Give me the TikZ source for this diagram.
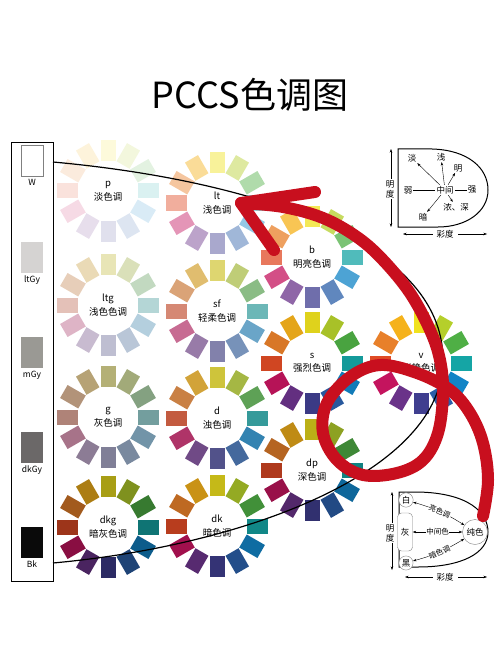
\documentclass[tikz,border=0pt]{standalone}
\usepackage{fontspec}
\setmainfont{Noto Sans CJK SC}
\usetikzlibrary{arrows.meta}
% twelve hues, clockwise from yellow at the top
\definecolor{h1}{HTML}{F0E21E}\definecolor{h2}{HTML}{B5CF2B}\definecolor{h3}{HTML}{4FAF45}
\definecolor{h4}{HTML}{15A5A5}\definecolor{h5}{HTML}{1284C6}\definecolor{h6}{HTML}{2B5FA9}
\definecolor{h7}{HTML}{3F3E8F}\definecolor{h8}{HTML}{6A3389}\definecolor{h9}{HTML}{C4145E}
\definecolor{h10}{HTML}{E04B25}\definecolor{h11}{HTML}{E8802A}\definecolor{h12}{HTML}{F5B21B}
\definecolor{ltgy}{HTML}{D5D3D2}\definecolor{mgy}{HTML}{9A9994}\definecolor{dkgy}{HTML}{6B6868}
\definecolor{bk}{HTML}{0A0A0A}\definecolor{redpen}{HTML}{C80F1E}
\newcommand\tonewheel[5]{% x, y, colour mix, name, text
\foreach \i in {1,...,12}\fill[h\i#3,shift={(#1,#2)},rotate=120-30*\i](30,-7.5)rectangle(51,7.5);
\node[align=center,font=\fontsize{9.5}{13.5}\selectfont](#4)at(#1,#2){#5};}
\begin{document}
\begin{tikzpicture}[x=1pt,y=-1pt,
  lbl/.style={font=\fontsize{8.5}{10}\selectfont,inner sep=1pt},
  small/.style={font=\fontsize{7.5}{9}\selectfont,inner sep=.5pt},
  tip/.style={-{Stealth[length=3.5pt,width=2.5pt]}},
  dbl/.style={{Stealth[length=3.5pt,width=2.5pt]}-{Stealth[length=3.5pt,width=2.5pt]}},
  chip/.style={minimum width=22pt,minimum height=31pt,inner sep=0pt},
  chiplbl/.style={font=\fontsize{8.5}{9}\selectfont,anchor=north,inner sep=0pt},
  ring/.style={circle,draw=gray,fill=white,inner sep=1pt}]
\useasboundingbox(0,0)rectangle(500,652);
\node[font=\fontsize{36}{40}\selectfont](title)at(250,95){PCCS色调图};
% grey scale column
\draw[line width=.8pt](11,142)rectangle(53,581);
\node[chip,draw=gray,line width=1pt,fill=white](W)at(32,161){};
\node[chiplbl](Wl)at([yshift=-2pt]W.south){W};
\foreach \y/\c/\t in {257/ltgy/ltGy,352/mgy/mGy,447/dkgy/dkGy,542/bk/Bk}{
  \node[chip,fill=\c](\t)at(32,\y){};
  \node[chiplbl](\t l)at([yshift=-3pt]\t.south){\t};}
% tone wheels
\tonewheel{108}{191}{!16!white}{ptone}{p\\淡色调}
\tonewheel{217}{203}{!45!white}{lttone}{lt\\浅色调}
\tonewheel{312}{257}{!75!white}{btone}{b\\明亮色调}
\tonewheel{421}{363}{}{vtone}{v\\鲜艳色调}
\tonewheel{108}{305}{!28!white!85!gray}{ltgtone}{ltg\\浅色色调}
\tonewheel{217}{311}{!65!white!80!gray}{sftone}{sf\\轻柔色调}
\tonewheel{312}{363}{!93!black}{stone}{s\\强烈色调}
\tonewheel{108}{417}{!35!gray!85!white}{gtone}{g\\灰色调}
\tonewheel{217}{418}{!70!gray}{dtone}{d\\浊色调}
\tonewheel{312}{470}{!78!black}{dptone}{dp\\深色调}
\tonewheel{108}{527}{!70!black}{dkgtone}{dkg\\暗灰色调}
\tonewheel{217}{526}{!82!black}{dktone}{dk\\暗色调}
\draw[line width=1.2pt](53,162)..controls(250,180)and(443,240)..(443,360)..controls(443,470)and(250,545)..(53,563);
% key: lightness and chroma
\draw[line width=1pt](398,149)--(432,149)..controls(468,150)and(488,168)..(488,190)..controls(488,212)and(466,227)..(438,227)--(398,227)--cycle;
\node[lbl](mid)at(445,190){中间};
\node[lbl](weak)at(408,190){弱};\node[lbl](strong)at(472,190){强};
\draw(weak)--(mid)--(strong);
\node[lbl](pale)at(412,158){淡};\node[lbl](light)at(441,157){浅};\node[lbl](bright)at(458,168){明};
\node[lbl](deep)at(456,207){浓、深};\node[lbl](dark)at(423,217){暗};
\foreach \n in {pale,light,bright,deep,dark}\draw[tip](mid)--(\n);
\coordinate(v1)at(391,149);\coordinate(v2)at(391,227);
\draw[dbl](v1)--(v2);
\node[lbl,fill=white,align=center](vl1)at(390,189){明\\度};
\coordinate(c1)at(403,234);\coordinate(c2)at(487,234);
\draw[dbl](c1)--(c2);
\node[lbl,fill=white,inner xsep=4pt](cl1)at(445,234){彩度};
% key: white, grey, black and pure colour
\draw[line width=1pt](399,492)--(418,492)..controls(468,493)and(488,512)..(488,532)..controls(488,553)and(462,567)..(418,567)--(399,567)--cycle;
\node[lbl,ring](wh)at(406,500){白};
\node[lbl,draw=gray,fill=white,rounded corners=4pt,minimum width=15pt,minimum height=38pt](gy)at(405,532){灰};
\node[lbl,ring](bl)at(406,563){黑};
\node[lbl,ring,minimum size=25pt](pure)at(475,532){纯色};
\draw[dbl](wh)to[bend left=8]node[small,sloped,fill=white]{亮色调}(pure);
\draw[dbl](gy)--node[small,fill=white]{中间色}(pure);
\draw[dbl](bl)to[bend right=8]node[small,sloped,fill=white]{暗色调}(pure);
\coordinate(v3)at(392,492);\coordinate(v4)at(392,570);
\draw[dbl](v3)--(v4);
\node[lbl,fill=white,align=center](vl2)at(390,533){明\\度};
\coordinate(c3)at(405,577);\coordinate(c4)at(487,577);
\draw[dbl](c3)--(c4);
\node[lbl,fill=white,inner xsep=4pt](cl2)at(445,577){彩度};
% red hand-drawn arrow
\coordinate(tipr)at(241,203);
\draw[redpen,line width=12pt,line cap=round,line join=round]plot[smooth,tension=.6]coordinates{
(483,516)(488,480)(483,443)(470,413)(450,390)(417,373)(380,365)(350,377)(327,403)(323,433)
(337,460)(363,475)(397,473)(423,460)(438,433)(443,393)(440,360)(430,330)(410,293)(383,260)
(357,237)(323,218)(283,207)(tipr)};
\draw[redpen,line width=12pt,line cap=round,line join=round](315,192)--(tipr)--(274,250);
\end{tikzpicture}
\end{document}
